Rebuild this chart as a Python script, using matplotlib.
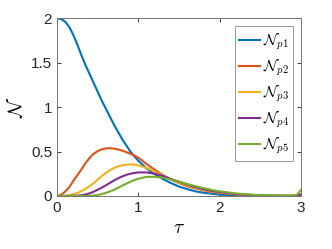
import numpy as np
import matplotlib
matplotlib.use('Agg')
import matplotlib.pyplot as plt
from matplotlib import rc
rc('mathtext', fontset='cm')
rc('font', family=['Liberation Sans', 'DejaVu Sans'])

# values
tau = [0.0, 0.05, 0.1, 0.15, 0.2, 0.25, 0.3, 0.35, 0.4, 0.45, 0.5, 0.55, 0.6, 0.65, 0.7,
       0.75, 0.8, 0.85, 0.9, 0.95, 1.0, 1.1, 1.2, 1.3, 1.4,
       1.5, 1.6, 1.7, 1.8, 1.9, 2.0, 2.2, 2.4, 2.6, 2.8, 2.9, 2.95, 3.0]
n_p1 = [2.00, 1.99, 1.96, 1.90, 1.81, 1.70, 1.58, 1.47, 1.37, 1.27, 1.17, 1.07, 0.98, 0.89, 0.80,
        0.72, 0.64, 0.57, 0.50, 0.445, 0.395, 0.31, 0.245, 0.19, 0.145,
        0.105, 0.077, 0.052, 0.036, 0.025, 0.015, 0.006, 0.002, 0.0, 0.0, 0.0, 0.0, 0.0]
n_p2 = [0.0, 0.012, 0.05, 0.10, 0.17, 0.235, 0.30, 0.37, 0.43, 0.475, 0.505, 0.525, 0.535, 0.537, 0.533,
        0.523, 0.51, 0.494, 0.475, 0.455, 0.43, 0.36, 0.295, 0.235, 0.185,
        0.145, 0.11, 0.085, 0.063, 0.047, 0.034, 0.017, 0.008, 0.003, 0.001, 0.001, 0.001, 0.0]
n_p3 = [0.0, 0.0, 0.003, 0.01, 0.02, 0.035, 0.055, 0.08, 0.11, 0.145, 0.185, 0.225, 0.26, 0.29, 0.315,
        0.333, 0.345, 0.352, 0.355, 0.352, 0.345, 0.315, 0.275, 0.23, 0.19,
        0.15, 0.12, 0.092, 0.07, 0.052, 0.038, 0.02, 0.009, 0.004, 0.001, 0.001, 0.001, 0.0]
n_p4 = [0.0, 0.0, 0.0, 0.0, 0.002, 0.004, 0.008, 0.017, 0.03, 0.048, 0.07, 0.094, 0.12, 0.147, 0.175,
        0.199, 0.22, 0.237, 0.25, 0.259, 0.265, 0.265, 0.25, 0.225, 0.19,
        0.16, 0.13, 0.10, 0.077, 0.058, 0.043, 0.022, 0.01, 0.004, 0.002, 0.002, 0.005, 0.02]
n_p5 = [0.0, 0.0, 0.0, 0.0, 0.0, 0.0, 0.0, 0.0, 0.003, 0.006, 0.012, 0.022, 0.035, 0.051, 0.07,
        0.092, 0.115, 0.138, 0.16, 0.179, 0.195, 0.215, 0.215, 0.205, 0.185,
        0.16, 0.135, 0.11, 0.088, 0.068, 0.052, 0.028, 0.014, 0.006, 0.003, 0.003, 0.015, 0.07]

series = [n_p1, n_p2, n_p3, n_p4, n_p5]
labels = [r'$\mathcal{N}_{p%d}$' % (i + 1) for i in range(5)]
colors = ['#0072BD', '#D95319', '#EDB120', '#7E2F8E', '#77AC30']

fig = plt.figure(figsize=(3.32, 2.49), dpi=100)
ax = fig.add_axes([0.172, 0.213, 0.735, 0.714])

for y, lab, c in zip(series, labels, colors):
    ax.plot(tau, y, color=c, lw=1.5, label=lab)

ax.set_xlim(0, 3)
ax.set_ylim(0, 2)
ax.set_xticks([0, 1, 2, 3])
ax.set_yticks([0, 0.5, 1, 1.5, 2])
ax.set_yticklabels(['0', '0.5', '1', '1.5', '2'])
ax.tick_params(direction='in', top=True, right=True, labelsize=11,
               colors='0.15', length=3, width=0.6)
for s in ax.spines.values():
    s.set_color('0.45')
    s.set_linewidth(0.7)

ax.set_xlabel(r'$\tau$', fontsize=14, labelpad=4)
ax.set_ylabel(r'$\mathcal{N}$', fontsize=14, labelpad=4)

leg = ax.legend(loc='upper right', fontsize=11, handlelength=1.4, handletextpad=0.15,
                labelspacing=0.3, borderpad=0.3, borderaxespad=0.5, fancybox=False,
                framealpha=1)
leg.get_frame().set_edgecolor('0.6')
leg.get_frame().set_linewidth(0.7)

fig.savefig('out.png', dpi=100)
